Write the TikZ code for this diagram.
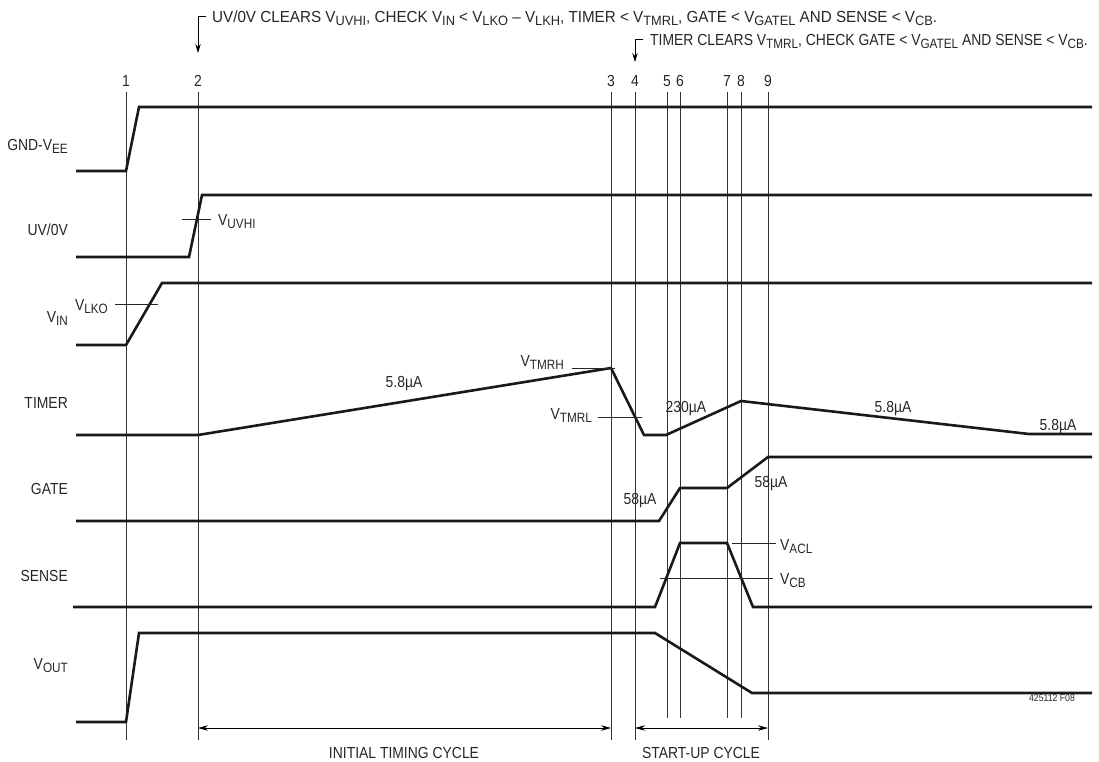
\documentclass[tikz,border=0pt]{standalone}
\usepackage{fontspec}
\setmainfont[FakeStretch=0.87]{Liberation Sans}
\newfontfamily\widefont[FakeStretch=0.95]{Liberation Sans}
\usetikzlibrary{arrows.meta}
\newcommand\sbs[1]{\raisebox{-3.5pt}{\fontsize{13.5}{14}\selectfont #1}}
\begin{document}
\begin{tikzpicture}[x=1pt,y=-1pt,
  sig/.style={line width=2.6pt,line join=miter,draw=black!90},
  vline/.style={line width=0.8pt,draw=black!80},
  tickl/.style={line width=0.8pt,draw=black!85},
  lbl/.style={font=\fontsize{16}{17}\selectfont,inner sep=0pt,text=black!85},
  small/.style={font=\fontsize{10}{11}\selectfont,inner sep=0pt,text=black!85},
  tip/.style={-{Stealth[length=9pt,width=5.5pt]},line width=0.8pt},
  dtip/.style={{Stealth[length=10pt,width=5.5pt]}-{Stealth[length=10pt,width=5.5pt]},line width=0.8pt}]
\useasboundingbox (0,0) rectangle (1099,761);

% vertical event lines
\foreach \n/\x/\b in {1/126/740,2/198/740,3/611/740,4/635/740,5/667/718,6/680/718,7/727/718,8/741/718,9/768/740}{
  \node[lbl,anchor=base] (n\n) at (\x,86) {\n};
  \draw[vline] (\x,92) -- (\x,\b);
}

% signal labels
\node[lbl,anchor=base east] (lgnd) at (68,150) {GND-V\sbs{EE}};
\node[lbl,anchor=base east] (luv) at (68,235) {UV/0V};
\node[lbl,anchor=base east] (lvin) at (68,322) {V\sbs{IN}};
\node[lbl,anchor=base east] (ltmr) at (68,408) {TIMER};
\node[lbl,anchor=base east] (lgate) at (68,494) {GATE};
\node[lbl,anchor=base east] (lsense) at (68,581) {SENSE};
\node[lbl,anchor=base east] (lvout) at (68,669) {V\sbs{OUT}};

% waveforms
\draw[sig] (76,171) -- (126,171) -- (139,107) -- (1092,107);
\draw[sig] (76,257) -- (189,257) -- (202,195) -- (1092,195);
\draw[sig] (76,345) -- (126,345) -- (162,283) -- (1092,283);
\draw[sig] (76,435) -- (198,435) -- (611,368) -- (644,435) -- (666,435) -- (741,401) -- (1029,434) -- (1092,434);
\draw[sig] (76,521) -- (659,521) -- (680,488) -- (727,488) -- (768,457) -- (1092,457);
\draw[sig] (73,607) -- (655,607) -- (680,543) -- (727,543) -- (753,607) -- (1092,607);
\draw[sig] (76,722) -- (126,722) -- (139,633) -- (655,633) -- (752,693) -- (1092,693);

% threshold ticks and labels
\draw[tickl] (182,219) -- (211,219);
\node[lbl,anchor=base west] (vuvhi) at (218,225) {V\sbs{UVHI}};
\draw[tickl] (115,304) -- (158,304);
\node[lbl,anchor=base east] (vlko) at (108,310) {V\sbs{LKO}};
\draw[tickl] (572,368) -- (615,368);
\node[lbl,anchor=base east] (vtmrh) at (564,366) {V\sbs{TMRH}};
\draw[tickl] (598,417) -- (642,417);
\node[lbl,anchor=base east] (vtmrl) at (592,419) {V\sbs{TMRL}};
\draw[tickl] (732,543) -- (776,543);
\node[lbl,anchor=base west] (vacl) at (780,550) {V\sbs{ACL}};
\draw[tickl] (660,578) -- (773,578);
\node[lbl,anchor=base west] (vcb) at (780,584) {V\sbs{CB}};

% current labels
\node[lbl,anchor=base] (i1) at (404,387) {5.8µA};
\node[lbl,anchor=base] (i2) at (686,412) {230µA};
\node[lbl,anchor=base] (i3) at (893,412) {5.8µA};
\node[lbl,anchor=base] (i4) at (1058,430) {5.8µA};
\node[lbl,anchor=base] (i5) at (640,504) {58µA};
\node[lbl,anchor=base] (i6) at (771,487) {58µA};

% top annotations
\node[lbl,anchor=base west,font=\widefont\fontsize{16}{17}\selectfont] (ann1) at (212,22) {UV/0V CLEARS V\sbs{UVHI}, CHECK V\sbs{IN} < V\sbs{LKO} – V\sbs{LKH}, TIMER < V\sbs{TMRL}, GATE < V\sbs{GATEL} AND SENSE < V\sbs{CB}.};
\node[lbl,anchor=base west] (ann2) at (650,45) {TIMER CLEARS V\sbs{TMRL}, CHECK GATE < V\sbs{GATEL} AND SENSE < V\sbs{CB}.};
\coordinate (a1) at (198,53);
\coordinate (a2) at (635,62);
\draw[tip] (206,16) -- (198,16) -- (a1);
\draw[tip] (643,39) -- (635,39) -- (a2);

% cycle arrows
\coordinate (c1l) at (198,728);
\coordinate (c1r) at (611,728);
\coordinate (c2l) at (635,728);
\coordinate (c2r) at (768,728);
\draw[dtip] (c1l) -- (c1r);
\draw[dtip] (c2l) -- (c2r);
\node[lbl,anchor=base] (cyc1) at (404,758) {INITIAL TIMING CYCLE};
\node[lbl,anchor=base] (cyc2) at (701,758) {START-UP CYCLE};

\node[small,anchor=base] (fig) at (1052,701) {425112 F08};
\end{tikzpicture}
\end{document}
